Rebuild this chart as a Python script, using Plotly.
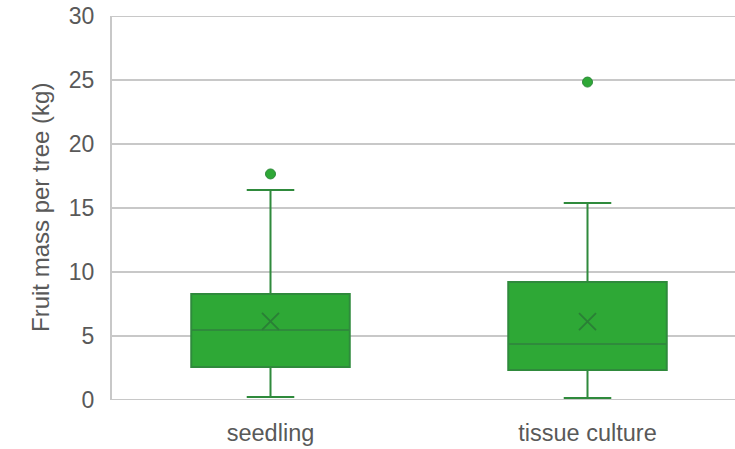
import plotly.graph_objects as go

categories = ["seedling", "tissue culture"]
q1 = [2.58, 2.34]
median = [5.47, 4.38]
q3 = [8.28, 9.22]
lowerfence = [0.23, 0.16]
upperfence = [16.4, 15.4]
means = [6.15, 6.13]
outlier_x = ["seedling", "tissue culture"]
outlier_y = [17.66, 24.84]

y_ticks = [0, 5, 10, 15, 20, 25, 30]

fill_color = "#2ea836"
line_color = "#2f8a3c"
text_color = "#595959"
grid_color = "#c8c8c8"
FONT = "Liberation Sans, Arial, sans-serif"

W, H = 735, 449
L, T = 112, 16
B = H - 400
plot_w = W - L

fig = go.Figure()
fig.add_trace(go.Box(
    x=categories, q1=q1, median=median, q3=q3,
    lowerfence=lowerfence, upperfence=upperfence,
    fillcolor=fill_color, line=dict(color=line_color, width=2),
    whiskerwidth=0.3, boxpoints=False, showlegend=False, hoverinfo="skip",
))
fig.add_trace(go.Scatter(
    x=categories, y=means, mode="markers",
    marker=dict(symbol="x-thin-open", size=17, color="#2a7f36",
                line=dict(color="#2a7f36", width=1.8)),
    showlegend=False, hoverinfo="skip",
))
fig.add_trace(go.Scatter(
    x=outlier_x, y=outlier_y, mode="markers",
    marker=dict(symbol="circle", size=10, color=fill_color, line=dict(color=line_color, width=1)),
    showlegend=False, hoverinfo="skip",
))

# category centres 317px apart; left edge half a category before the first
x_right = -0.5 + plot_w / 317.0

fig.update_layout(
    width=W, height=H,
    margin=dict(l=L, r=0, t=T, b=B),
    paper_bgcolor="white", plot_bgcolor="white",
    boxgap=0.5, boxgroupgap=0,
    font=dict(family=FONT, color=text_color, size=23),
    xaxis=dict(
        type="category", range=[-0.5, x_right],
        showgrid=False, showline=False, zeroline=False,
        ticks="", ticklabelstandoff=16,
        tickfont=dict(size=23.5, color=text_color),
        fixedrange=True, automargin=False,
    ),
    yaxis=dict(
        range=[0, 30], tickvals=y_ticks, ticktext=[str(v) for v in y_ticks],
        showgrid=True, gridcolor=grid_color, gridwidth=2,
        showline=True, linecolor=grid_color, linewidth=2,
        zeroline=False, ticks="", ticklabelstandoff=11,
        tickfont=dict(size=23, color=text_color),
        fixedrange=True, automargin=False,
    ),
    shapes=[
        dict(type="line", xref="paper", yref="y", x0=0, x1=1, y0=y_ticks[0], y1=y_ticks[0],
             line=dict(color=grid_color, width=2), layer="below"),
        dict(type="line", xref="paper", yref="y", x0=0, x1=1, y0=y_ticks[-1], y1=y_ticks[-1],
             line=dict(color=grid_color, width=2), layer="below"),
    ],
    annotations=[dict(
        text="Fruit mass per tree (kg)", textangle=-90,
        xref="paper", yref="paper", x=(40 - L) / plot_w, y=0.5,
        xanchor="center", yanchor="middle", showarrow=False,
        font=dict(size=24, color=text_color, family=FONT),
    )],
)

post = (
    "var s=document.createElement('style');"
    "s.textContent='html,body{margin:0;padding:0;overflow:hidden;scrollbar-width:none;}"
    "::-webkit-scrollbar{display:none;width:0;height:0;}';"
    "document.head.appendChild(s);"
)

fig.write_html(
    "out.html",
    config={"displayModeBar": False, "staticPlot": True},
    post_script=post,
)
